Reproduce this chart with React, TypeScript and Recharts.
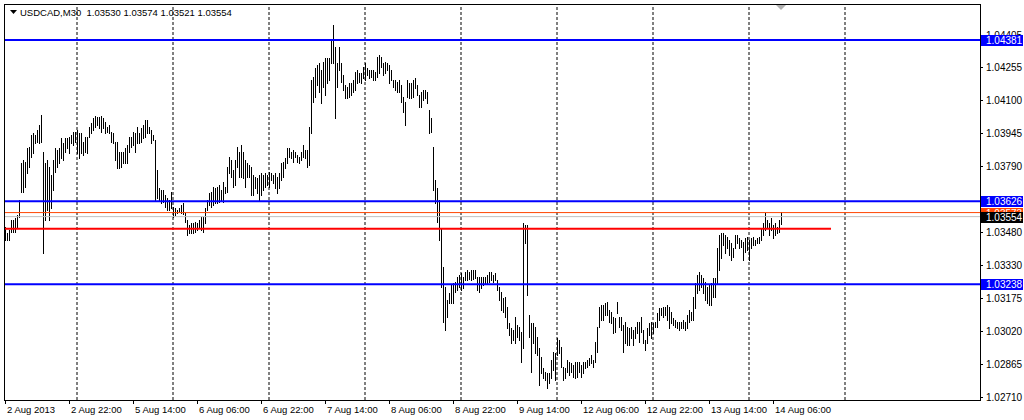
import { ComposedChart, Bar, XAxis, YAxis, ReferenceLine, ReferenceDot } from 'recharts';

// USDCAD M30, 2 Aug 2013 06:00 .. 14 Aug 2013 08:00 (one entry per bar)
const symbol = 'USDCAD,M30';
const lastBar = [1.0353, 1.03574, 1.03521, 1.03554];

const highs = [
  1.03506, 1.03478, 1.03492, 1.03538, 1.03538, 1.03547, 1.03562, 1.03632, 1.03805, 1.03819,
  1.03810, 1.03875, 1.03880, 1.03936, 1.03946, 1.03936, 1.03960, 1.03983, 1.04030, 1.03857,
  1.03805, 1.03819, 1.03787, 1.03749, 1.03819, 1.03875, 1.03866, 1.03875, 1.03922, 1.03899,
  1.03922, 1.03922, 1.03927, 1.03936, 1.03950, 1.03950, 1.03960, 1.03946, 1.03946, 1.03904,
  1.03927, 1.03927, 1.03974, 1.03992, 1.04016, 1.04025, 1.04020, 1.04020, 1.04025, 1.04016,
  1.03997, 1.03974, 1.03983, 1.03950, 1.03946, 1.03904, 1.03904, 1.03857, 1.03857, 1.03857,
  1.03875, 1.03889, 1.03927, 1.03927, 1.03950, 1.03946, 1.03974, 1.03946, 1.03969, 1.03983,
  1.04006, 1.04006, 1.03974, 1.03960, 1.03936, 1.03913, 1.03772, 1.03688, 1.03679, 1.03679,
  1.03655, 1.03641, 1.03632, 1.03670, 1.03599, 1.03595, 1.03585, 1.03595, 1.03609, 1.03618,
  1.03571, 1.03538, 1.03515, 1.03524, 1.03524, 1.03529, 1.03524, 1.03538, 1.03553, 1.03553,
  1.03595, 1.03632, 1.03665, 1.03670, 1.03693, 1.03688, 1.03693, 1.03702, 1.03679, 1.03716,
  1.03693, 1.03787, 1.03834, 1.03819, 1.03772, 1.03819, 1.03880, 1.03857, 1.03889, 1.03857,
  1.03819, 1.03805, 1.03796, 1.03787, 1.03749, 1.03740, 1.03735, 1.03749, 1.03758, 1.03749,
  1.03758, 1.03749, 1.03763, 1.03758, 1.03749, 1.03758, 1.03740, 1.03758, 1.03805, 1.03810,
  1.03829, 1.03875, 1.03875, 1.03857, 1.03866, 1.03857, 1.03843, 1.03834, 1.03857, 1.03889,
  1.03866, 1.03866, 1.03974, 1.04194, 1.04208, 1.04250, 1.04264, 1.04273, 1.04240, 1.04278,
  1.04297, 1.04297, 1.04297, 1.04381, 1.04451, 1.04348, 1.04273, 1.04348, 1.04273, 1.04217,
  1.04170, 1.04161, 1.04180, 1.04180, 1.04194, 1.04231, 1.04240, 1.04226, 1.04226, 1.04254,
  1.04273, 1.04250, 1.04240, 1.04240, 1.04240, 1.04231, 1.04301, 1.04311, 1.04301, 1.04273,
  1.04278, 1.04273, 1.04264, 1.04240, 1.04194, 1.04194, 1.04184, 1.04194, 1.04170, 1.04114,
  1.04091, 1.04194, 1.04180, 1.04180, 1.04194, 1.04203, 1.04170, 1.04123, 1.04138, 1.04147,
  1.04147, 1.04138, 1.04053, 1.04016, 1.03880, 1.03726, 1.03688, 1.03632, 1.03501, 1.03318,
  1.03225, 1.03164, 1.03197, 1.03234, 1.03244, 1.03248, 1.03272, 1.03281, 1.03290, 1.03272,
  1.03295, 1.03304, 1.03295, 1.03304, 1.03304, 1.03304, 1.03272, 1.03272, 1.03272, 1.03272,
  1.03272, 1.03281, 1.03295, 1.03295, 1.03281, 1.03290, 1.03258, 1.03225, 1.03201, 1.03173,
  1.03178, 1.03131, 1.03056, 1.03033, 1.03024, 1.03084, 1.03047, 1.03038, 1.03014, 1.03524,
  1.03515, 1.03515, 1.03094, 1.03056, 1.03056, 1.03038, 1.02991, 1.02939, 1.02897, 1.02846,
  1.02827, 1.02822, 1.02822, 1.02883, 1.02921, 1.02916, 1.02986, 1.02977, 1.02944, 1.02850,
  1.02846, 1.02883, 1.02874, 1.02869, 1.02860, 1.02874, 1.02874, 1.02874, 1.02860, 1.02874,
  1.02874, 1.02883, 1.02893, 1.02907, 1.02883, 1.02967, 1.03038, 1.03131, 1.03141, 1.03141,
  1.03150, 1.03155, 1.03117, 1.03108, 1.03084, 1.03080, 1.03155, 1.03084, 1.03084, 1.03047,
  1.03061, 1.03038, 1.03033, 1.03038, 1.03024, 1.03038, 1.03061, 1.03061, 1.03084, 1.03024,
  1.02977, 1.03033, 1.03056, 1.03061, 1.03056, 1.03061, 1.03103, 1.03127, 1.03127, 1.03131,
  1.03131, 1.03141, 1.03131, 1.03108, 1.03080, 1.03070, 1.03061, 1.03061, 1.03061, 1.03070,
  1.03061, 1.03094, 1.03117, 1.03108, 1.03178, 1.03244, 1.03281, 1.03295, 1.03281, 1.03267,
  1.03248, 1.03225, 1.03234, 1.03244, 1.03267, 1.03267, 1.03407, 1.03468, 1.03478, 1.03478,
  1.03468, 1.03459, 1.03445, 1.03431, 1.03407, 1.03468, 1.03468, 1.03454, 1.03445, 1.03435,
  1.03454, 1.03459, 1.03445, 1.03454, 1.03459, 1.03445, 1.03454, 1.03459, 1.03501, 1.03524,
  1.03571, 1.03538, 1.03524, 1.03547, 1.03515, 1.03524, 1.03506, 1.03538, 1.03574,
];

const lows = [
  1.03445, 1.03445, 1.03445, 1.03483, 1.03483, 1.03483, 1.03506, 1.03553, 1.03670, 1.03670,
  1.03693, 1.03758, 1.03787, 1.03834, 1.03852, 1.03899, 1.03904, 1.03899, 1.03904, 1.03384,
  1.03538, 1.03585, 1.03538, 1.03595, 1.03679, 1.03763, 1.03787, 1.03805, 1.03829, 1.03819,
  1.03857, 1.03875, 1.03852, 1.03899, 1.03889, 1.03904, 1.03852, 1.03829, 1.03852, 1.03843,
  1.03857, 1.03852, 1.03927, 1.03946, 1.03960, 1.03974, 1.03983, 1.03969, 1.03950, 1.03969,
  1.03946, 1.03950, 1.03946, 1.03904, 1.03899, 1.03819, 1.03782, 1.03782, 1.03787, 1.03805,
  1.03805, 1.03805, 1.03857, 1.03880, 1.03889, 1.03857, 1.03899, 1.03899, 1.03904, 1.03922,
  1.03927, 1.03946, 1.03946, 1.03899, 1.03913, 1.03632, 1.03641, 1.03632, 1.03618, 1.03623,
  1.03599, 1.03585, 1.03585, 1.03595, 1.03553, 1.03562, 1.03571, 1.03576, 1.03571, 1.03567,
  1.03529, 1.03468, 1.03478, 1.03478, 1.03478, 1.03483, 1.03492, 1.03501, 1.03492, 1.03483,
  1.03524, 1.03585, 1.03609, 1.03599, 1.03609, 1.03618, 1.03618, 1.03623, 1.03632, 1.03623,
  1.03665, 1.03670, 1.03758, 1.03740, 1.03693, 1.03702, 1.03787, 1.03740, 1.03740, 1.03735,
  1.03693, 1.03740, 1.03740, 1.03655, 1.03655, 1.03688, 1.03665, 1.03632, 1.03655, 1.03679,
  1.03693, 1.03702, 1.03693, 1.03726, 1.03712, 1.03688, 1.03665, 1.03688, 1.03726, 1.03740,
  1.03782, 1.03805, 1.03834, 1.03829, 1.03810, 1.03834, 1.03810, 1.03805, 1.03819, 1.03834,
  1.03829, 1.03787, 1.03796, 1.03946, 1.04091, 1.04114, 1.04170, 1.04138, 1.04086, 1.04161,
  1.04123, 1.04180, 1.04194, 1.04273, 1.04273, 1.04016, 1.04161, 1.04240, 1.04184, 1.04147,
  1.04109, 1.04109, 1.04114, 1.04123, 1.04138, 1.04147, 1.04180, 1.04184, 1.04180, 1.04203,
  1.04194, 1.04217, 1.04203, 1.04208, 1.04194, 1.04194, 1.04208, 1.04226, 1.04254, 1.04217,
  1.04226, 1.04240, 1.04180, 1.04194, 1.04161, 1.04147, 1.04138, 1.04138, 1.04091, 1.04044,
  1.03983, 1.04114, 1.04109, 1.04109, 1.04114, 1.04156, 1.04123, 1.04067, 1.04067, 1.04100,
  1.04109, 1.04086, 1.03946, 1.03950, 1.03679, 1.03618, 1.03529, 1.03445, 1.03225, 1.03061,
  1.03024, 1.03084, 1.03150, 1.03150, 1.03150, 1.03201, 1.03211, 1.03225, 1.03211, 1.03220,
  1.03258, 1.03258, 1.03262, 1.03258, 1.03262, 1.03267, 1.03211, 1.03201, 1.03220, 1.03234,
  1.03244, 1.03244, 1.03248, 1.03258, 1.03248, 1.03258, 1.03211, 1.03164, 1.03117, 1.03108,
  1.03084, 1.03033, 1.03000, 1.02963, 1.02977, 1.02963, 1.02991, 1.02977, 1.02874, 1.02939,
  1.03431, 1.03187, 1.02991, 1.02827, 1.02963, 1.02916, 1.02907, 1.02766, 1.02822, 1.02799,
  1.02790, 1.02752, 1.02776, 1.02799, 1.02836, 1.02790, 1.02907, 1.02916, 1.02850, 1.02790,
  1.02799, 1.02827, 1.02813, 1.02827, 1.02804, 1.02799, 1.02804, 1.02827, 1.02804, 1.02822,
  1.02846, 1.02850, 1.02860, 1.02869, 1.02850, 1.02874, 1.02921, 1.03038, 1.03070, 1.03070,
  1.03094, 1.03094, 1.03061, 1.03056, 1.03010, 1.03014, 1.03103, 1.03038, 1.03024, 1.02921,
  1.02963, 1.02953, 1.02953, 1.02986, 1.02953, 1.02986, 1.03010, 1.02967, 1.03014, 1.02963,
  1.02930, 1.02963, 1.03000, 1.02986, 1.03010, 1.03038, 1.03038, 1.03070, 1.03094, 1.03084,
  1.03094, 1.03070, 1.03033, 1.03056, 1.03047, 1.03038, 1.03033, 1.03024, 1.03033, 1.03033,
  1.03024, 1.03033, 1.03061, 1.03070, 1.03070, 1.03127, 1.03197, 1.03211, 1.03225, 1.03197,
  1.03164, 1.03150, 1.03141, 1.03141, 1.03178, 1.03178, 1.03244, 1.03304, 1.03361, 1.03421,
  1.03384, 1.03407, 1.03375, 1.03351, 1.03365, 1.03407, 1.03431, 1.03407, 1.03412, 1.03351,
  1.03389, 1.03398, 1.03351, 1.03407, 1.03421, 1.03421, 1.03431, 1.03431, 1.03445, 1.03468,
  1.03492, 1.03506, 1.03468, 1.03492, 1.03454, 1.03468, 1.03478, 1.03483, 1.03521,
];

// empty slots right of the last bar (chart shift)
const shiftBars = 99;

const timeLabels = [
  '2 Aug 2013', '2 Aug 22:00', '5 Aug 14:00', '6 Aug 06:00', '6 Aug 22:00', '7 Aug 14:00',
  '8 Aug 06:00', '8 Aug 22:00', '9 Aug 14:00', '12 Aug 06:00', '12 Aug 22:00', '13 Aug 14:00',
  '14 Aug 06:00',
];
const labelBars = [0, 32, 64, 96, 128, 160, 192, 224, 256, 288, 320, 352, 384];
const dayStartBars = [36, 84, 132, 180, 228, 276, 324, 372, 420];

const priceTicks = [1.04405, 1.04255, 1.041, 1.03945, 1.0379, 1.0348, 1.0333, 1.03175, 1.0302, 1.02865, 1.0271];
const priceMin = 1.02696;
const priceMax = 1.04549;

const blueLevels = [1.04381, 1.03626, 1.03238];
const trendLevel = 1.03497;
const trendEndBar = 413;
const askPrice = 1.03573;
const bidPrice = 1.03554;

// price tags on the scale, drawn after the plain ticks (last one on top)
const tagPrices = [...blueLevels, askPrice, bidPrice];
const tagColors = ['#0000ff', '#0000ff', '#0000ff', '#ff4500', '#000000'];

const FONT = "'Liberation Sans', Arial, sans-serif";

const chartData = Array.from({ length: highs.length + shiftBars }, (_, i) => ({
  i,
  range: i < highs.length ? [lows[i], highs[i]] : null,
}));

const HLBar = (props: any) => {
  const { x, y, width, height } = props;
  if (x == null || y == null || !isFinite(y) || !isFinite(height)) return null;
  const cx = Math.round(x + width / 2 - 0.5);
  const y1 = Math.round(Math.min(y, y + height));
  const y2 = Math.round(Math.max(y, y + height));
  return <rect x={cx} y={y1} width={1} height={Math.max(1, y2 - y1 + 1)} fill="#000" shapeRendering="crispEdges" />;
};

const PriceTick = (props: any) => {
  const { x, y, payload } = props;
  const v = payload.value;
  const yy = Math.round(y);
  const k = tagPrices.indexOf(v);
  if (k >= 0) {
    return (
      <g>
        <rect x={x + 1} y={yy - 5} width={42} height={11} fill={tagColors[k]} shapeRendering="crispEdges" />
        <text x={x + 6} y={yy + 4} fill="#fff" fontSize={10} fontFamily={FONT}>
          {v.toFixed(5)}
        </text>
      </g>
    );
  }
  return (
    <g>
      <line x1={x} x2={x + 3} y1={yy + 0.5} y2={yy + 0.5} stroke="#000" />
      <text x={x + 6} y={yy + 4} fill="#000" fontSize={10} fontFamily={FONT}>
        {v.toFixed(5)}
      </text>
    </g>
  );
};

const TimeTick = (props: any) => {
  const { x, y, payload } = props;
  const k = labelBars.indexOf(payload.value);
  if (k < 0) return null;
  return (
    <g>
      <line x1={x} x2={x} y1={y} y2={y + 4} stroke="#000" shapeRendering="crispEdges" />
      <text x={x + 2} y={y + 13} fontSize={9.5} fontFamily={FONT} fill="#000">
        {timeLabels[k]}
      </text>
    </g>
  );
};

const ShiftMark = (props: any) => {
  const { cx } = props;
  if (cx == null) return null;
  return <polygon points={`${cx - 5},5 ${cx + 5},5 ${cx},10`} fill="#b0b0b0" />;
};

export default function App() {
  return (
    <div style={{ position: 'absolute', left: 0, top: 0, width: 1024, height: 420, background: '#fff', fontFamily: FONT }}>
      <ComposedChart
        width={1024}
        height={420}
        data={chartData}
        margin={{ top: 4, right: 0, bottom: 0, left: 4 }}
        barCategoryGap={0}
      >
        <XAxis
          dataKey="i"
          type="category"
          ticks={labelBars}
          interval={0}
          tick={<TimeTick />}
          tickLine={false}
          axisLine={false}
          tickSize={0}
          tickMargin={0}
          height={20}
        />
        <YAxis
          orientation="right"
          width={44}
          type="number"
          domain={[priceMin, priceMax]}
          allowDataOverflow
          ticks={[...priceTicks, ...tagPrices]}
          interval={0}
          tickSize={0}
          tickMargin={0}
          axisLine={false}
          tickLine={false}
          tick={<PriceTick />}
        />
        {dayStartBars.map((b) => (
          <ReferenceLine key={'d' + b} x={b} stroke="#000" strokeDasharray="3 2" />
        ))}
        <Bar dataKey="range" barSize={1} shape={<HLBar />} isAnimationActive={false} />
        <ReferenceLine y={bidPrice} stroke="#c0c0c0" />
        <ReferenceLine y={askPrice} stroke="#ff4500" />
        <ReferenceLine
          segment={[{ x: 0, y: trendLevel }, { x: trendEndBar, y: trendLevel }]}
          stroke="#ff0000"
          strokeWidth={2}
        />
        {blueLevels.map((p) => (
          <ReferenceLine key={'b' + p} y={p} stroke="#0000ff" strokeWidth={2} />
        ))}
        <ReferenceDot x={highs.length - 1} y={priceMax} r={0} shape={<ShiftMark />} ifOverflow="visible" />
      </ComposedChart>
      <div
        style={{
          position: 'absolute', left: 4, top: 4, width: 977, height: 397,
          boxSizing: 'border-box', border: '1px solid #000', pointerEvents: 'none',
        }}
      />
      <div style={{ position: 'absolute', left: 10, top: 7, fontSize: 9.5, lineHeight: '12px', color: '#000', whiteSpace: 'pre' }}>
        <svg width={7} height={5} style={{ marginRight: 3, verticalAlign: 1 }}>
          <polygon points="0,0 7,0 3.5,4" fill="#000" />
        </svg>
        {symbol + '  ' + lastBar.map((v) => v.toFixed(5)).join(' ')}
      </div>
    </div>
  );
}
